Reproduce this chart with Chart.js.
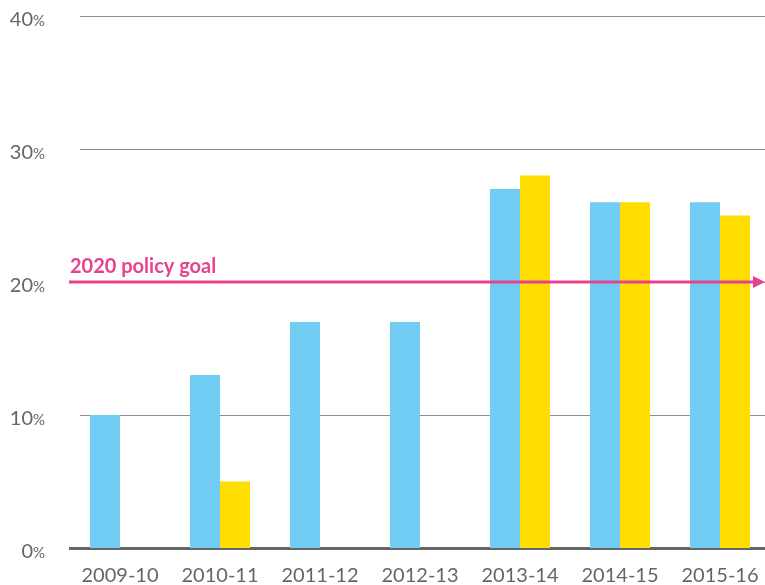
<!DOCTYPE html>
<html>
<head>
<meta charset="utf-8">
<script src="https://cdn.jsdelivr.net/npm/chart.js@4.4.0/dist/chart.umd.min.js"></script>
<style>
  html, body { margin: 0; padding: 0; background: #fff; overflow: hidden; }
  #wrap { width: 765px; height: 585px; overflow: hidden; }
</style>
</head>
<body>
<div id="wrap"><canvas id="chart" width="770" height="585"></canvas></div>
<script>
// categories and values
const years = ["2009-10", "2010-11", "2011-12", "2012-13", "2013-14", "2014-15", "2015-16"];
const blueValues = [10, 13, 17, 17, 27, 26, 26];
const yellowValues = [null, 5, null, null, 28, 26, 25];
const yTicks = [0, 10, 20, 30, 40];
const goalValue = 20;
const goalLabel = "2020 policy goal";

const pink = "#e8428f";
const visibleRight = 765;

// grid lines start a little right of the axis line, so draw them here
const gridLines = {
  id: "gridLines",
  beforeDatasetsDraw(chart) {
    const { ctx, scales } = chart;
    ctx.save();
    ctx.strokeStyle = "#8c8c8c";
    ctx.lineWidth = 1.2;
    yTicks.forEach(v => {
      if (v === 0) return;
      const y = Math.round(scales.y.getPixelForValue(v)) + 0.5;
      ctx.beginPath();
      ctx.moveTo(80, y);
      ctx.lineTo(visibleRight, y);
      ctx.stroke();
    });
    ctx.restore();
  }
};

// y labels with a smaller % sign
const yLabels = {
  id: "yLabels",
  afterDraw(chart) {
    const { ctx, scales } = chart;
    ctx.save();
    ctx.fillStyle = "#666";
    ctx.textBaseline = "alphabetic";
    yTicks.forEach(v => {
      const y = scales.y.getPixelForValue(v) + 10;
      ctx.font = "15px Lato";
      const pw = ctx.measureText("%").width;
      ctx.textAlign = "right";
      ctx.fillText("%", 45, y);
      ctx.font = "20px Lato";
      ctx.fillText(String(v), 45 - pw, y);
    });
    ctx.restore();
  }
};

// policy goal arrow on top of the bars
const goalLine = {
  id: "goalLine",
  afterDatasetsDraw(chart) {
    const { ctx, scales } = chart;
    const y = scales.y.getPixelForValue(goalValue);
    const x0 = 69, x1 = visibleRight;
    ctx.save();
    ctx.strokeStyle = pink;
    ctx.fillStyle = pink;
    ctx.lineWidth = 3;
    ctx.beginPath();
    ctx.moveTo(x0, y);
    ctx.lineTo(x1 - 10, y);
    ctx.stroke();
    ctx.beginPath();
    ctx.moveTo(x1 - 12, y - 6);
    ctx.lineTo(x1, y);
    ctx.lineTo(x1 - 12, y + 6);
    ctx.closePath();
    ctx.fill();
    ctx.font = "bold 20px Lato";
    ctx.textAlign = "left";
    ctx.textBaseline = "alphabetic";
    ctx.fillText(goalLabel, 70, y - 9);
    ctx.restore();
  }
};

new Chart(document.getElementById("chart"), {
  type: "bar",
  data: {
    labels: years,
    datasets: [
      { data: blueValues, backgroundColor: "#72cdf4" },
      { data: yellowValues, backgroundColor: "#ffdd00" }
    ]
  },
  options: {
    responsive: false,
    animation: false,
    layout: { padding: { left: 70, top: 16, right: 0, bottom: 0 } },
    plugins: { legend: { display: false }, tooltip: { enabled: false } },
    datasets: { bar: { categoryPercentage: 0.6, barPercentage: 1.0 } },
    scales: {
      x: {
        afterFit(scale) { scale.height = 37; },
        grid: { display: false },
        border: { display: true, color: "#666", width: 3 },
        ticks: { color: "#666", font: { family: "Lato", size: 20 }, padding: 8, maxRotation: 0 }
      },
      y: {
        min: 0,
        max: 40,
        afterFit(scale) { scale.width = 0; },
        ticks: { display: false, stepSize: 10 },
        grid: { display: false },
        border: { display: false }
      }
    }
  },
  plugins: [gridLines, yLabels, goalLine]
});
</script>
</body>
</html>
